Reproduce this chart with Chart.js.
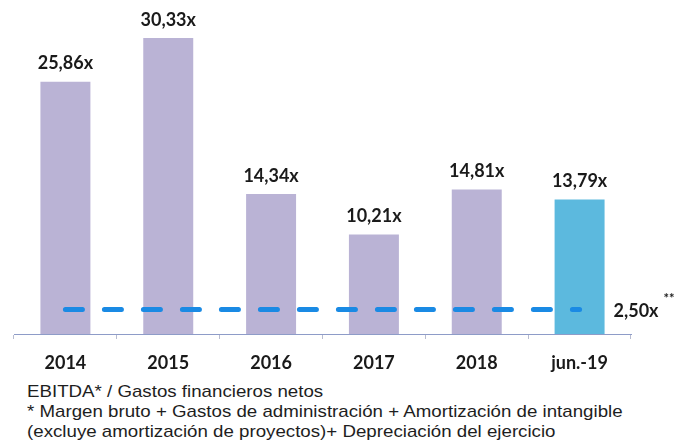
<!DOCTYPE html>
<html lang="es">
<head>
    <meta charset="UTF-8">
    <title>EBITDA / Gastos financieros netos</title>
    <style>
        body {
            margin: 0;
            padding: 0;
            background: #ffffff;
        }
        .wrap {
            position: relative;
            width: 682px;
            height: 446px;
            overflow: hidden;
        }
        .chart-box {
            position: absolute;
            left: 0;
            top: 0;
            width: 682px;
            height: 375px;
        }
        .notes {
            position: absolute;
            left: 27px;
            top: 382px;
            font-family: 'Liberation Sans', Arial, sans-serif;
            font-size: 17px;
            line-height: 20px;
            color: #1e1e1e;
            white-space: nowrap;
            transform: scaleX(1.1);
            transform-origin: left top;
        }
    </style>
</head>
<body>
    <div class="wrap">
        <div class="chart-box">
            <canvas id="coverageChart"></canvas>
        </div>
        <div class="notes">
            <div>EBITDA* / Gastos financieros netos</div>
            <div>* Margen bruto + Gastos de administración + Amortización de intangible</div>
            <div>(excluye amortización de proyectos)+ Depreciación del ejercicio</div>
        </div>
    </div>

    <script src="https://cdn.jsdelivr.net/npm/chart.js"></script>
    <script>
        // datos
        const categories = ['2014', '2015', '2016', '2017', '2018', 'jun.-19'];
        const coverage = [25.86, 30.33, 14.34, 10.21, 14.81, 13.79];
        const covenant = [2.5, 2.5, 2.5, 2.5, 2.5, 2.5];
        const covenantLabel = '2,50x';
        const covenantMark = '**';

        const lavender = '#bab3d5';
        const lightBlue = '#5cb9de';
        const barColors = coverage.map((v, i) => i === coverage.length - 1 ? lightBlue : lavender);

        // formato 25,86x
        function fmt(v) {
            return v.toFixed(2).replace('.', ',') + 'x';
        }

        const labelPlugin = {
            id: 'labelPlugin',
            afterDatasetsDraw(chart) {
                const ctx = chart.ctx;
                ctx.save();
                ctx.fillStyle = '#1a1a1a';
                ctx.font = 'bold 18px Lato';
                ctx.textAlign = 'center';
                ctx.textBaseline = 'middle';
                const bars = chart.getDatasetMeta(0).data;
                bars.forEach((bar, i) => {
                    ctx.fillText(fmt(coverage[i]), bar.x, bar.y - 18);
                });

                // etiqueta de la línea de covenant
                const pts = chart.getDatasetMeta(1).data;
                const last = pts[pts.length - 1];
                ctx.textAlign = 'left';
                ctx.fillText(covenantLabel, last.x + 34, last.y + 2);
                const w = ctx.measureText(covenantLabel).width;
                ctx.font = 'bold 13px Lato';
                ctx.fillText(covenantMark, last.x + 34 + w + 5, last.y - 11);
                ctx.restore();
            }
        };

        new Chart(document.getElementById('coverageChart'), {
            type: 'bar',
            data: {
                labels: categories,
                datasets: [{
                    type: 'bar',
                    data: coverage,
                    backgroundColor: barColors,
                    categoryPercentage: 1,
                    barPercentage: 0.486,
                    order: 1
                }, {
                    type: 'line',
                    data: covenant,
                    borderColor: '#1a8ae4',
                    borderWidth: 5,
                    borderDash: [17, 22],
                    borderCapStyle: 'round',
                    pointRadius: 0,
                    fill: false,
                    order: 0
                }]
            },
            options: {
                responsive: true,
                maintainAspectRatio: false,
                animation: false,
                events: [],
                layout: {
                    padding: { left: 14, right: 51, top: 12, bottom: 0 }
                },
                plugins: {
                    legend: { display: false },
                    tooltip: { enabled: false }
                },
                scales: {
                    x: {
                        grid: {
                            display: true,
                            drawOnChartArea: false,
                            tickLength: 5,
                            color: '#b8bcd0'
                        },
                        border: { display: true, color: '#8e9cc8', width: 1 },
                        ticks: {
                            color: '#1a1a1a',
                            font: { family: 'Lato', size: 18, weight: 'bold' },
                            padding: 13,
                            maxRotation: 0
                        },
                        afterFit(scale) {
                            scale.height = 41;
                        }
                    },
                    y: {
                        display: false,
                        min: 0,
                        max: 33
                    }
                }
            },
            plugins: [labelPlugin]
        });
    </script>
</body>
</html>
